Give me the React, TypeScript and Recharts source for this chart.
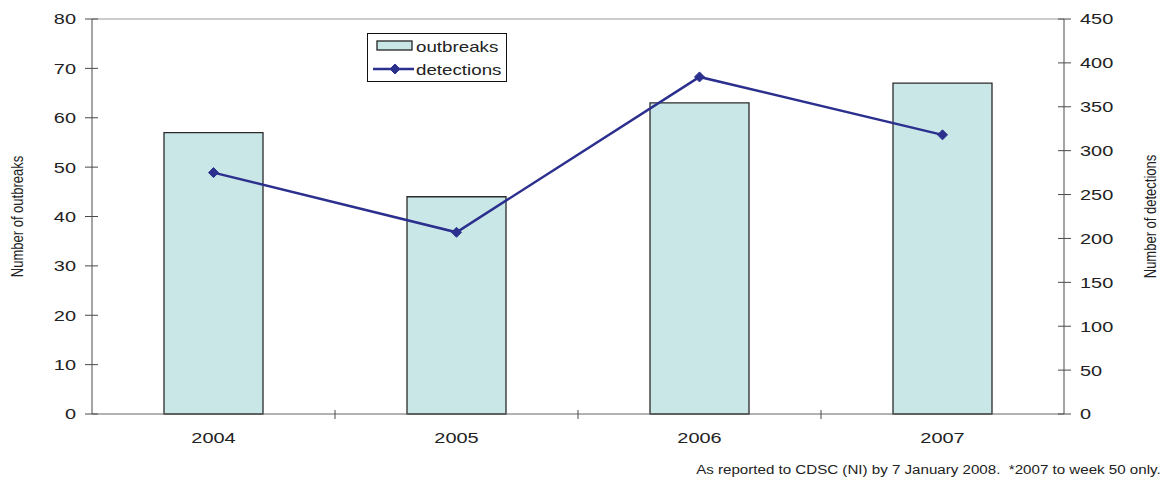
import React from 'react'
import {
  ComposedChart, Bar, Line, XAxis, YAxis, Legend, ReferenceLine,
} from 'recharts'

const years = ['2004', '2005', '2006', '2007']
const outbreaks = [57, 44, 63, 67]
const detections = [275, 207, 384, 318]
const outbreakTicks = [0, 10, 20, 30, 40, 50, 60, 70, 80]
const detectionTicks = [0, 50, 100, 150, 200, 250, 300, 350, 400, 450]

const data = years.map((year, i) => ({
  year,
  outbreaks: outbreaks[i],
  detections: detections[i],
}))

const W = 1163
const H = 483
const LEFT_W = 92
const RIGHT_W = 99
const X_H = 69
const TOP = 19
const PLOT_W = W - LEFT_W - RIGHT_W
const BAND = PLOT_W / years.length

const FONT = '"Liberation Sans", Arial, sans-serif'
const TEXT = '#222'
const AXIS = '#4a4a4a'
const STRETCH = 1.33
const BAR_FILL = '#c9e7e7'
const LINE_BLUE = '#2b2f8e'

const TICK_SIZE = 7
const TICK_MARGIN = 9

function LeftTick(props: any) {
  const { x, y, payload } = props
  const ax = x + TICK_SIZE + TICK_MARGIN
  return (
    <g>
      <line x1={ax - 7} x2={ax + 6} y1={y} y2={y} stroke={AXIS} />
      <g transform={`translate(${x},${y}) scale(${STRETCH},1)`}>
        <text textAnchor="end" dy="0.36em" fontSize={15} fill={TEXT} fontFamily={FONT}>
          {payload.value}
        </text>
      </g>
    </g>
  )
}

function RightTick(props: any) {
  const { x, y, payload } = props
  const ax = x - TICK_SIZE - TICK_MARGIN
  return (
    <g>
      <line x1={ax - 6} x2={ax + 7} y1={y} y2={y} stroke={AXIS} />
      <g transform={`translate(${x},${y}) scale(${STRETCH},1)`}>
        <text textAnchor="start" dy="0.36em" fontSize={15} fill={TEXT} fontFamily={FONT}>
          {payload.value}
        </text>
      </g>
    </g>
  )
}

// year labels sit under the bars, tick marks go between categories
function YearTick(props: any) {
  const { x, y, payload, index } = props
  const ay = y - TICK_SIZE - 4
  const last = index === years.length - 1
  return (
    <g>
      {!last && (
        <line x1={x + BAND / 2} x2={x + BAND / 2} y1={ay - 4} y2={ay + 5} stroke={AXIS} />
      )}
      <g transform={`translate(${x},${ay + 18}) scale(${STRETCH},1)`}>
        <text textAnchor="middle" dy="0.71em" fontSize={15} fill={TEXT} fontFamily={FONT}>
          {payload.value}
        </text>
      </g>
    </g>
  )
}

function Diamond(props: any) {
  const { cx, cy } = props
  if (cx == null || cy == null) return null
  const r = 5
  return (
    <polygon
      points={`${cx},${cy - r} ${cx + r},${cy} ${cx},${cy + r} ${cx - r},${cy}`}
      fill={LINE_BLUE}
      stroke={LINE_BLUE}
    />
  )
}

function AxisTitle({ viewBox, offsetX, text }: any) {
  const cx = viewBox.x + offsetX
  const cy = viewBox.y + viewBox.height / 2
  return (
    <g transform={`translate(${cx},${cy}) scale(1.25,1) rotate(-90)`}>
      <text textAnchor="middle" dy="0.36em" fontSize={13} fill={TEXT} fontFamily={FONT}>
        {text}
      </text>
    </g>
  )
}

const stretched: React.CSSProperties = {
  display: 'inline-block',
  transform: `scaleX(${STRETCH - 0.08})`,
  transformOrigin: 'left center',
}

function LegendBox({ payload }: any) {
  // bars first, then the line
  const items = [...(payload || [])].sort((a: any, b: any) =>
    (a.type === 'rect' ? 0 : 1) - (b.type === 'rect' ? 0 : 1),
  )
  return (
    <div
      style={{
        border: '1px solid #111',
        background: '#fff',
        width: 140,
        height: 49,
        boxSizing: 'border-box',
        fontFamily: FONT,
        fontSize: 15,
        color: TEXT,
        position: 'relative',
      }}
    >
      {items.map((item: any, i: number) => (
        <div
          key={item.value}
          style={{ position: 'absolute', left: 0, top: 2 + i * 23, height: 20, display: 'flex', alignItems: 'center' }}
        >
          <svg width={48} height={20}>
            {item.type === 'rect' ? (
              <rect x={9} y={5} width={35} height={9} fill={BAR_FILL} stroke="#222" strokeWidth={1.3} />
            ) : (
              <g>
                <line x1={5} x2={46} y1={10} y2={10} stroke={LINE_BLUE} strokeWidth={2.5} />
                <Diamond cx={27} cy={10} />
              </g>
            )}
          </svg>
          <span style={stretched}>{item.value}</span>
        </div>
      ))}
    </div>
  )
}

export default function App() {
  return (
    <div style={{ position: 'absolute', left: 0, top: 0, width: W, height: H, background: '#fff' }}>
      <ComposedChart
        width={W}
        height={H}
        data={data}
        margin={{ top: TOP, right: 0, bottom: 0, left: 0 }}
        barCategoryGap={72}
      >
        <XAxis
          dataKey="year"
          height={X_H}
          tickSize={TICK_SIZE}
          tickMargin={4}
          tickLine={false}
          axisLine={{ stroke: '#666' }}
          tick={<YearTick />}
          interval={0}
        />
        <YAxis
          yAxisId="left"
          orientation="left"
          width={LEFT_W}
          domain={[0, 80]}
          ticks={outbreakTicks}
          interval={0}
          tickSize={TICK_SIZE}
          tickMargin={TICK_MARGIN}
          tickLine={false}
          axisLine={{ stroke: AXIS }}
          tick={<LeftTick />}
          label={{ content: (p: any) => <AxisTitle {...p} offsetX={17} text="Number of outbreaks" /> }}
        />
        <YAxis
          yAxisId="right"
          orientation="right"
          width={RIGHT_W}
          domain={[0, 450]}
          ticks={detectionTicks}
          interval={0}
          tickSize={TICK_SIZE}
          tickMargin={TICK_MARGIN}
          tickLine={false}
          axisLine={{ stroke: AXIS }}
          tick={<RightTick />}
          label={{ content: (p: any) => <AxisTitle {...p} offsetX={86} text="Number of detections" /> }}
        />
        <ReferenceLine yAxisId="left" y={80} stroke="#9a9a9a" />
        <Bar
          yAxisId="left"
          dataKey="outbreaks"
          name="outbreaks"
          legendType="rect"
          fill={BAR_FILL}
          stroke="#2a2a2a"
          strokeWidth={1.3}
          isAnimationActive={false}
        />
        <Line
          yAxisId="right"
          dataKey="detections"
          name="detections"
          type="linear"
          stroke={LINE_BLUE}
          strokeWidth={2.5}
          dot={<Diamond />}
          activeDot={false}
          isAnimationActive={false}
        />
        <Legend
          layout="vertical"
          align="center"
          verticalAlign="middle"
          content={<LegendBox />}
          wrapperStyle={{ left: 367, top: 33, width: 141, height: 50 }}
        />
      </ComposedChart>
      <div
        style={{
          position: 'absolute',
          right: 2,
          top: 463,
          fontFamily: FONT,
          fontSize: 12,
          color: TEXT,
          whiteSpace: 'pre',
          transform: 'scaleX(1.26)',
          transformOrigin: 'right center',
        }}
      >
        {'As reported to CDSC (NI) by 7 January 2008.  *2007 to week 50 only.'}
      </div>
    </div>
  )
}
